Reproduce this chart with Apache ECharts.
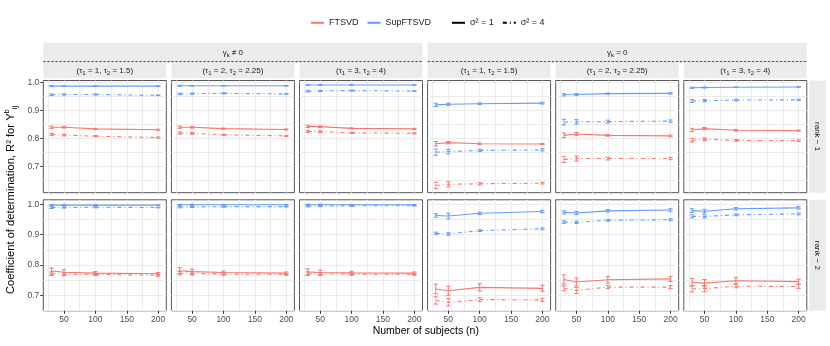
<!DOCTYPE html>
<html>
<head>
<meta charset="utf-8">
<script src="https://cdn.jsdelivr.net/npm/echarts@6/dist/echarts.min.js"></script>
<style>
  html, body { margin: 0; padding: 0; background: #fff; }
  #chart { width: 830px; height: 346px; }
</style>
</head>
<body>
<div id="chart"></div>
<script>
// x values and axis breaks
const subjects = [30, 50, 100, 200];
const xTicks = [50, 100, 150, 200];
const xGrid = [25, 50, 75, 100, 125, 150, 175, 200];
const yTicks = [0.7, 0.8, 0.9, 1.0];
const yGrid = [0.65, 0.7, 0.75, 0.8, 0.85, 0.9, 0.95, 1.0];

// facet labels
const gammaStrips = [['≠', 0, 2], ['=', 3, 5]];
const tauPairs = [['1', '1.5'], ['2', '2.25'], ['3', '4'], ['1', '1.5'], ['2', '2.25'], ['3', '4']];
const rankLabels = ['rank − 1', 'rank − 2'];

// rank-1 row, one inner array per column panel, values at n = 30, 50, 100, 200
const rank1Sup1 = [[0.988, 0.988, 0.988, 0.988], [0.989, 0.989, 0.989, 0.989], [0.992, 0.992, 0.992, 0.992],
  [0.921, 0.923, 0.925, 0.927], [0.957, 0.958, 0.961, 0.962], [0.982, 0.983, 0.984, 0.985]];
const rank1Sup4 = [[0.957, 0.958, 0.958, 0.955], [0.960, 0.961, 0.962, 0.960], [0.970, 0.971, 0.972, 0.970],
  [0.752, 0.754, 0.758, 0.760], [0.859, 0.860, 0.861, 0.863], [0.935, 0.936, 0.938, 0.939]];
const rank1Ft1 = [[0.841, 0.841, 0.835, 0.832], [0.841, 0.841, 0.836, 0.833], [0.844, 0.843, 0.837, 0.835],
  [0.782, 0.786, 0.782, 0.781], [0.812, 0.817, 0.812, 0.810], [0.831, 0.836, 0.830, 0.829]];
const rank1Ft4 = [[0.815, 0.813, 0.809, 0.804], [0.820, 0.819, 0.814, 0.810], [0.826, 0.825, 0.821, 0.819],
  [0.633, 0.637, 0.639, 0.641], [0.726, 0.729, 0.729, 0.729], [0.794, 0.798, 0.794, 0.793]];

// rank-2 row
const rank2Sup1 = [[0.997, 0.997, 0.997, 0.997], [0.998, 0.998, 0.998, 0.998], [0.998, 0.998, 0.998, 0.998],
  [0.963, 0.961, 0.970, 0.976], [0.973, 0.971, 0.978, 0.981], [0.979, 0.977, 0.985, 0.988]];
const rank2Sup4 = [[0.989, 0.989, 0.990, 0.989], [0.991, 0.991, 0.992, 0.992], [0.994, 0.994, 0.995, 0.995],
  [0.904, 0.902, 0.913, 0.919], [0.941, 0.940, 0.947, 0.949], [0.960, 0.960, 0.965, 0.968]];
const rank2Ft1 = [[0.780, 0.776, 0.773, 0.771], [0.781, 0.778, 0.775, 0.773], [0.777, 0.775, 0.774, 0.773],
  [0.721, 0.715, 0.726, 0.723], [0.752, 0.744, 0.751, 0.754], [0.743, 0.740, 0.748, 0.745]];
const rank2Ft4 = [[0.771, 0.770, 0.769, 0.766], [0.773, 0.772, 0.770, 0.769], [0.771, 0.770, 0.770, 0.769],
  [0.683, 0.677, 0.686, 0.685], [0.723, 0.716, 0.727, 0.727], [0.721, 0.722, 0.730, 0.729]];

// error bar half widths, same layout
const rank1Sup1Err = [[0.002, 0.001, 0.001, 0.001], [0.002, 0.001, 0.001, 0.001], [0.002, 0.001, 0.001, 0.001],
  [0.006, 0.004, 0.003, 0.003], [0.004, 0.003, 0.002, 0.002], [0.002, 0.002, 0.001, 0.001]];
const rank1Sup4Err = [[0.003, 0.002, 0.002, 0.001], [0.003, 0.002, 0.002, 0.001], [0.003, 0.002, 0.002, 0.001],
  [0.011, 0.008, 0.004, 0.004], [0.010, 0.008, 0.005, 0.004], [0.005, 0.004, 0.003, 0.002]];
const rank1Ft1Err = [[0.004, 0.003, 0.002, 0.002], [0.004, 0.003, 0.002, 0.002], [0.004, 0.003, 0.002, 0.002],
  [0.008, 0.004, 0.003, 0.002], [0.008, 0.005, 0.003, 0.003], [0.006, 0.004, 0.003, 0.002]];
const rank1Ft4Err = [[0.004, 0.003, 0.002, 0.002], [0.004, 0.003, 0.002, 0.002], [0.004, 0.003, 0.002, 0.002],
  [0.011, 0.009, 0.004, 0.003], [0.011, 0.009, 0.005, 0.004], [0.006, 0.005, 0.003, 0.003]];
const rank2Sup1Err = [[0.002, 0.002, 0.001, 0.001], [0.002, 0.002, 0.001, 0.001], [0.002, 0.002, 0.001, 0.001],
  [0.006, 0.009, 0.004, 0.004], [0.005, 0.005, 0.004, 0.004], [0.006, 0.006, 0.004, 0.004]];
const rank2Sup4Err = [[0.003, 0.002, 0.002, 0.001], [0.003, 0.002, 0.002, 0.001], [0.003, 0.002, 0.002, 0.001],
  [0.004, 0.004, 0.003, 0.003], [0.004, 0.004, 0.003, 0.003], [0.005, 0.005, 0.003, 0.003]];
const rank2Ft1Err = [[0.010, 0.008, 0.005, 0.004], [0.010, 0.008, 0.005, 0.004], [0.010, 0.008, 0.005, 0.004],
  [0.016, 0.015, 0.012, 0.010], [0.015, 0.013, 0.011, 0.008], [0.012, 0.012, 0.010, 0.008]];
const rank2Ft4Err = [[0.006, 0.005, 0.004, 0.003], [0.006, 0.005, 0.004, 0.003], [0.006, 0.005, 0.004, 0.003],
  [0.012, 0.012, 0.006, 0.005], [0.008, 0.010, 0.005, 0.005], [0.010, 0.010, 0.005, 0.006]];

const RED = '#F8766D';
const BLUE = '#619CFF';
const DOTDASH = [4, 3, 1, 3];
const FONT = 'Liberation Sans, Arial, Helvetica, sans-serif';

// panel layout
const colLeft = [43.3, 171.4, 299.5, 427.6, 555.7, 683.8];
const panelW = 123;
const rowTop = [80.5, 199.8];
const rowH = [112.2, 111];
const xRange = [17, 213];
const yRange = [[0.607, 1.008], [0.649, 1.0145]];

const rows = [
  [[rank1Sup1, rank1Sup1Err], [rank1Sup4, rank1Sup4Err], [rank1Ft1, rank1Ft1Err], [rank1Ft4, rank1Ft4Err]],
  [[rank2Sup1, rank2Sup1Err], [rank2Sup4, rank2Sup4Err], [rank2Ft1, rank2Ft1Err], [rank2Ft4, rank2Ft4Err]]
];
const seriesMeta = [
  { name: 'SupFTSVD', color: BLUE, dash: false },
  { name: 'SupFTSVD', color: BLUE, dash: true },
  { name: 'FTSVD', color: RED, dash: false },
  { name: 'FTSVD', color: RED, dash: true }
];

const grids = [], xAxes = [], yAxes = [], series = [];

for (let r = 0; r < 2; r++) {
  for (let c = 0; c < 6; c++) {
    const g = r * 6 + c;
    grids.push({
      left: colLeft[c], top: rowTop[r], width: panelW, height: rowH[r],
      show: true, borderColor: '#555', borderWidth: 1, backgroundColor: '#fff'
    });
    // axis A: grid lines only
    xAxes.push({
      gridIndex: g, type: 'value', position: 'bottom', min: xRange[0], max: xRange[1],
      axisLine: { show: false }, axisLabel: { show: false },
      axisTick: { show: false, customValues: xGrid },
      splitLine: { show: true, lineStyle: { color: '#EBEBEB', width: 1 } }
    });
    // axis B: ticks and labels
    xAxes.push({
      gridIndex: g, type: 'value', position: 'bottom', min: xRange[0], max: xRange[1],
      axisLine: { show: false },
      axisTick: { show: r === 1, customValues: xTicks, length: 3, lineStyle: { color: '#333' } },
      axisLabel: { show: r === 1, customValues: xTicks, color: '#4D4D4D', fontSize: 8.5, fontFamily: FONT, margin: 4 },
      splitLine: { show: false }
    });
    yAxes.push({
      gridIndex: g, type: 'value', position: 'left', min: yRange[r][0], max: yRange[r][1],
      axisLine: { show: false }, axisLabel: { show: false },
      axisTick: { show: false, customValues: yGrid },
      splitLine: { show: true, lineStyle: { color: '#EBEBEB', width: 1 } }
    });
    yAxes.push({
      gridIndex: g, type: 'value', position: 'left', min: yRange[r][0], max: yRange[r][1],
      axisLine: { show: false },
      axisTick: { show: c === 0, customValues: yTicks, length: 3, lineStyle: { color: '#333' } },
      axisLabel: {
        show: c === 0, customValues: yTicks, color: '#4D4D4D', fontSize: 8.5, fontFamily: FONT, margin: 4,
        formatter: v => v.toFixed(1)
      },
      splitLine: { show: false }
    });

    rows[r].forEach(([vals, errs], k) => {
      const meta = seriesMeta[k];
      const lineType = meta.dash ? DOTDASH : 'solid';
      series.push({
        type: 'line', name: meta.name, xAxisIndex: 2 * g, yAxisIndex: 2 * g,
        data: subjects.map((n, i) => [n, vals[c][i]]),
        symbol: 'none', showSymbol: false, silent: true, z: 3,
        color: meta.color,
        lineStyle: { color: meta.color, width: 1.1, type: lineType }
      });
      series.push({
        type: 'custom', xAxisIndex: 2 * g, yAxisIndex: 2 * g, silent: true, z: 4,
        data: subjects.map((n, i) => [n, vals[c][i] - errs[c][i], vals[c][i] + errs[c][i]]),
        encode: { x: 0, y: [1, 2] },
        renderItem: (params, api) => {
          const x = api.value(0);
          const lo = api.coord([x, api.value(1)]);
          const hi = api.coord([x, api.value(2)]);
          const hw = api.size([3.5, 0])[0];
          const style = { stroke: meta.color, lineWidth: 1, lineDash: meta.dash ? [2, 1] : null };
          return {
            type: 'group',
            children: [
              { type: 'line', shape: { x1: lo[0], y1: lo[1], x2: hi[0], y2: hi[1] }, style },
              { type: 'line', shape: { x1: lo[0] - hw, y1: lo[1], x2: lo[0] + hw, y2: lo[1] }, style: { stroke: meta.color, lineWidth: 1 } },
              { type: 'line', shape: { x1: hi[0] - hw, y1: hi[1], x2: hi[0] + hw, y2: hi[1] }, style: { stroke: meta.color, lineWidth: 1 } }
            ]
          };
        }
      });
    });
  }
}

// empty series that only feed the linetype legend
series.push({ type: 'line', name: 'σ² = 1', data: [], xAxisIndex: 0, yAxisIndex: 0, symbol: 'none', color: '#000', lineStyle: { color: '#000', width: 1.3, type: 'solid' } });
series.push({ type: 'line', name: 'σ² = 4', data: [], xAxisIndex: 0, yAxisIndex: 0, symbol: 'none', color: '#000', lineStyle: { color: '#000', width: 1.3, type: DOTDASH } });

// strips and titles
const STRIP = '#EBEBEB';
const graphics = [];
const stripRich = {
  a: { fontSize: 8, fontFamily: FONT, fill: '#1A1A1A', lineHeight: 12 },
  s: { fontSize: 6, fontFamily: FONT, fill: '#1A1A1A', lineHeight: 6, verticalAlign: 'bottom' }
};
gammaStrips.forEach(([sym, c0, c1]) => {
  const x0 = colLeft[c0], x1 = colLeft[c1] + panelW;
  graphics.push({ type: 'rect', shape: { x: x0, y: 42.7, width: x1 - x0, height: 19 }, style: { fill: STRIP }, silent: true });
  graphics.push({ type: 'line', shape: { x1: x0, y1: 61.7, x2: x1, y2: 61.7 }, style: { stroke: '#000', lineWidth: 0.8, lineDash: [2.5, 1.5] }, silent: true });
  graphics.push({
    type: 'text', x: (x0 + x1) / 2, y: 52.5, silent: true,
    style: { text: '{a|γ}{s|k}{a| ' + sym + ' 0}', rich: stripRich, align: 'center', verticalAlign: 'middle' }
  });
});
tauPairs.forEach(([t1, t2], c) => {
  graphics.push({ type: 'rect', shape: { x: colLeft[c], y: 62.2, width: panelW, height: 16 }, style: { fill: STRIP }, silent: true });
  graphics.push({
    type: 'text', x: colLeft[c] + panelW / 2, y: 70.5, silent: true,
    style: { text: '{a|(τ}{s|1}{a| = ' + t1 + ', τ}{s|2}{a| = ' + t2 + ')}', rich: stripRich, align: 'center', verticalAlign: 'middle' }
  });
});
rankLabels.forEach((lab, r) => {
  graphics.push({ type: 'rect', shape: { x: 809.3, y: rowTop[r], width: 16.5, height: rowH[r] }, style: { fill: STRIP }, silent: true });
  graphics.push({
    type: 'text', x: 817.5, y: rowTop[r] + rowH[r] / 2, rotation: -Math.PI / 2, silent: true,
    style: { text: lab, fontSize: 8, fontFamily: FONT, fill: '#1A1A1A', align: 'center', verticalAlign: 'middle' }
  });
});
graphics.push({
  type: 'text', x: 11, y: 200, rotation: Math.PI / 2, silent: true,
  style: {
    text: '{t|Coefficient of determination, R² for Y}{sup|b}{sub|ij}',
    rich: {
      t: { fontSize: 11.2, fontFamily: FONT, fill: '#000', lineHeight: 16 },
      sup: { fontSize: 7.5, fontFamily: FONT, fill: '#000', lineHeight: 7, verticalAlign: 'top' },
      sub: { fontSize: 7.5, fontFamily: FONT, fill: '#000', lineHeight: 7, verticalAlign: 'bottom' }
    },
    align: 'center', verticalAlign: 'middle'
  }
});
graphics.push({
  type: 'text', x: 425.8, y: 331.5, silent: true,
  style: { text: 'Number of subjects (n)', fontSize: 10.5, fontFamily: FONT, fill: '#000', align: 'center', verticalAlign: 'middle' }
});

const legendText = { fontSize: 9, fontFamily: FONT, color: '#1A1A1A' };
const legendSymbolOff = { opacity: 0, color: 'transparent', borderWidth: 0 };
const option = {
  animation: false,
  backgroundColor: '#fff',
  grid: grids,
  xAxis: xAxes,
  yAxis: yAxes,
  legend: [
    {
      left: 305, top: 13, itemWidth: 13, itemHeight: 12, itemGap: 8, textStyle: legendText,
      selectedMode: false, itemStyle: legendSymbolOff,
      data: [
        { name: 'FTSVD', lineStyle: { type: 'solid' } },
        { name: 'SupFTSVD', lineStyle: { type: 'solid' } }
      ]
    },
    {
      left: 446, top: 13, itemWidth: 13, itemHeight: 12, itemGap: 8, textStyle: legendText,
      selectedMode: false, itemStyle: legendSymbolOff,
      data: ['σ² = 1', 'σ² = 4']
    }
  ],
  graphic: graphics,
  series: series
};

const chart = echarts.init(document.getElementById('chart'), null, { renderer: 'canvas' });
chart.setOption(option);
</script>
</body>
</html>
